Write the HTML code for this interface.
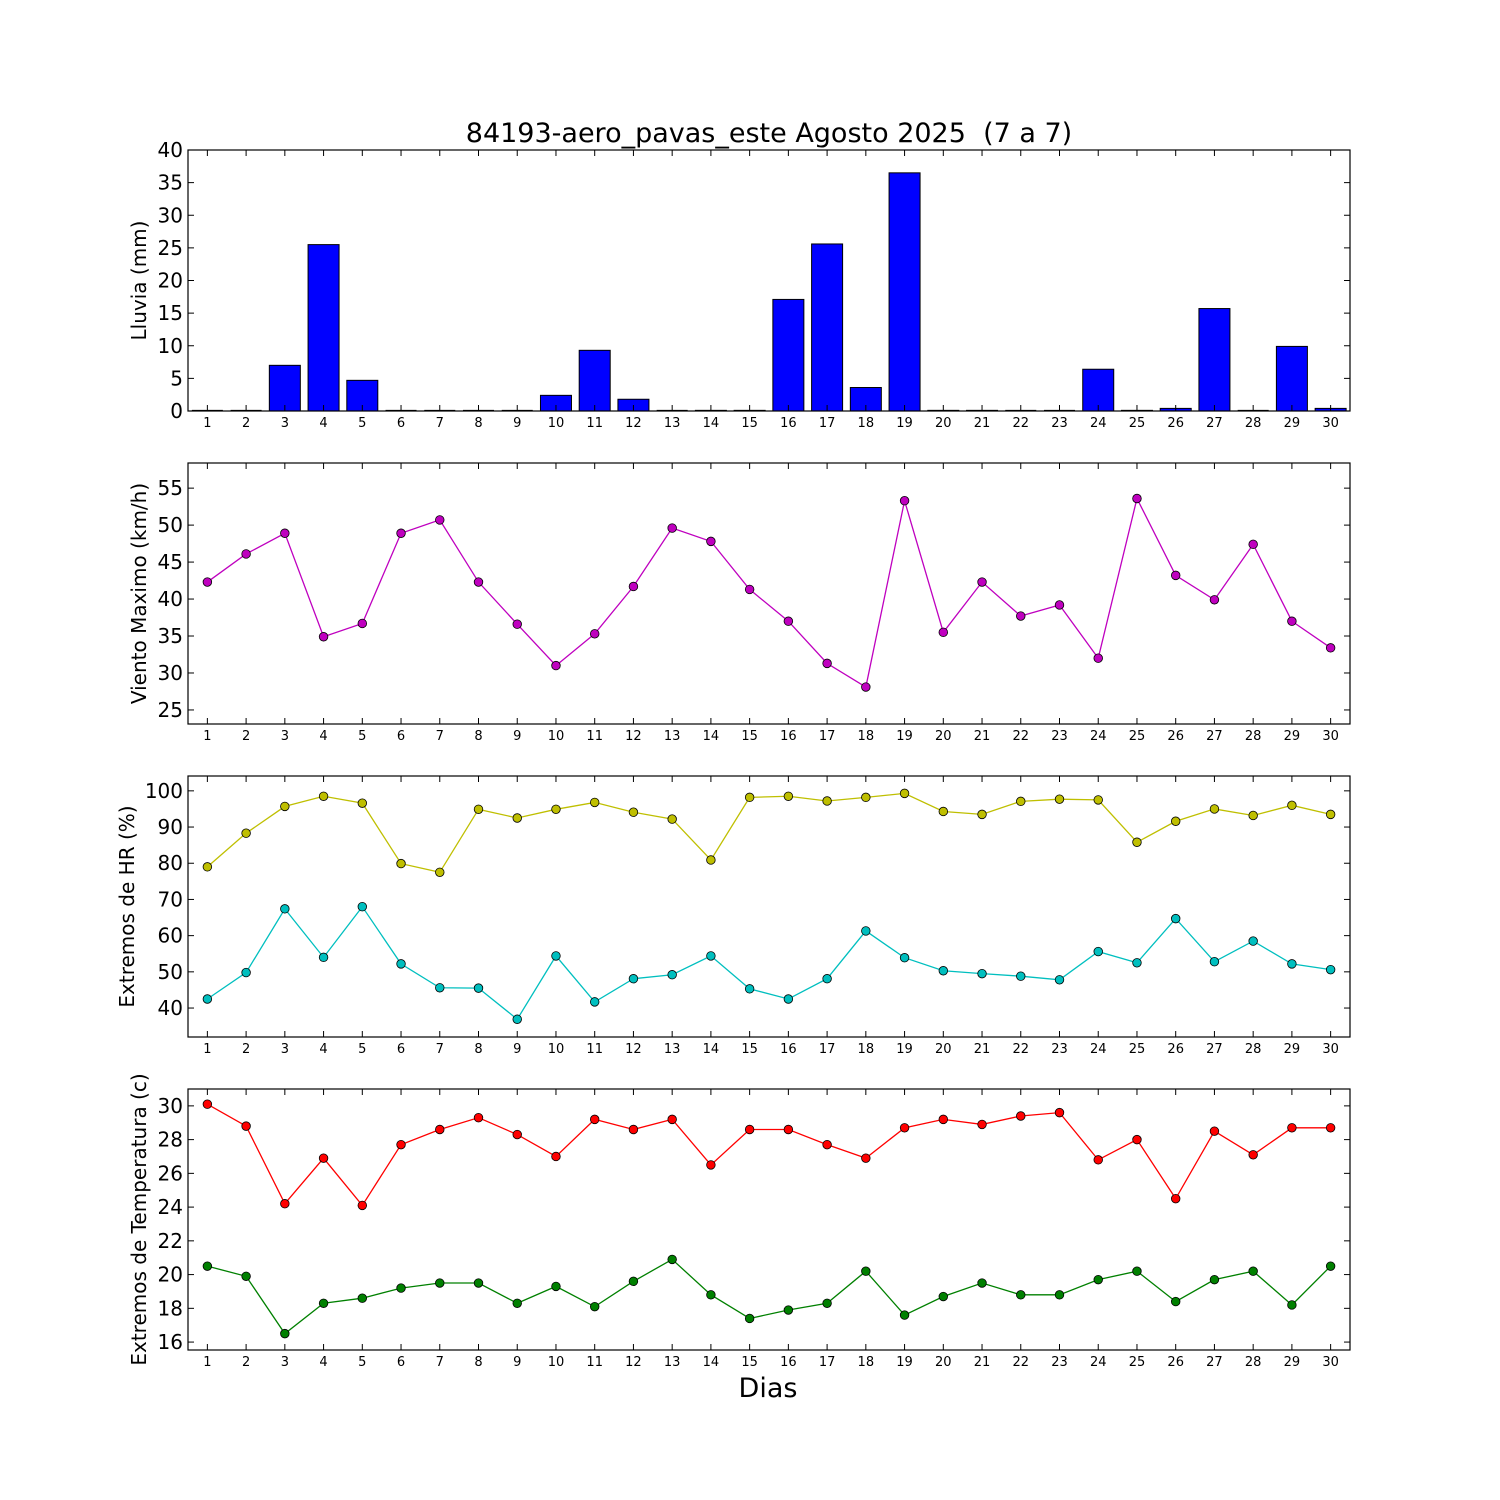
<!DOCTYPE html>
<html><head><meta charset="utf-8"><style>body{margin:0;background:#fff}svg{display:block}text{font-family:"DejaVu Sans","Liberation Sans",sans-serif}</style></head>
<body><svg id="s" width="1500" height="1500" xmlns="http://www.w3.org/2000/svg"></svg>
<script>
const S=document.getElementById('s');let h='';
const X0=188,X1=1350,dx=(X1-X0)/30;const xd=d=>X0+(d-0.5)*dx;
function panel(top,bot,ymin,ymax,ticks,label,lx,draw){
 const y=v=>bot-(v-ymin)/(ymax-ymin)*(bot-top);
 h+=draw(y);
 h+=`<rect x="${X0}" y="${top}" width="${X1-X0}" height="${bot-top}" fill="none" stroke="#000" stroke-width="1.2"/>`;
 for(const t of ticks){const yy=y(t);h+=`<line x1="${X0}" x2="${X0+6}" y1="${yy}" y2="${yy}" stroke="#000"/><line x1="${X1}" x2="${X1-6}" y1="${yy}" y2="${yy}" stroke="#000"/><text x="${X0-5}" y="${yy+7}" font-size="20" text-anchor="end">${t}</text>`;}
 for(let d=1;d<=30;d++){const xx=xd(d);h+=`<line x1="${xx}" x2="${xx}" y1="${bot}" y2="${bot-6}" stroke="#000"/><line x1="${xx}" x2="${xx}" y1="${top}" y2="${top+6}" stroke="#000"/><text x="${xx}" y="${bot+16}" font-size="13" text-anchor="middle">${d}</text>`;}
 const cy=(top+bot)/2;h+=`<text x="${lx}" y="${cy}" font-size="20" text-anchor="middle" transform="rotate(-90 ${lx} ${cy})">${label}</text>`;
}
function line(y,vals,col){let p=vals.map((v,i)=>`${xd(i+1)},${y(v)}`).join(' ');let r=`<polyline points="${p}" fill="none" stroke="${col}" stroke-width="1.3"/>`;vals.forEach((v,i)=>r+=`<circle cx="${xd(i+1)}" cy="${y(v)}" r="4.3" fill="${col}" stroke="#000" stroke-width="0.8"/>`);return r;}
const rain=[0,0,7,25.5,4.7,0,0,0,0,2.4,9.3,1.8,0,0.1,0.1,17.1,25.6,3.6,36.5,0.1,0.1,0,0,6.4,0.1,0.4,15.7,0,9.9,0.4];
panel(150,411,0,40,[0,5,10,15,20,25,30,35,40],"Lluvia (mm)",146,y=>rain.map((v,i)=>v>0?`<rect x="${xd(i+1)-15.5}" y="${y(v)}" width="31" height="${411-y(v)}" fill="#0000ff" stroke="#000" stroke-width="1"/>`:`<line x1="${xd(i+1)-15.5}" x2="${xd(i+1)+15.5}" y1="410.5" y2="410.5" stroke="#000" stroke-width="1.2"/>`).join(''));
const wind=[42.3,46.1,48.9,34.9,36.7,48.9,50.7,42.3,36.6,31,35.3,41.7,49.6,47.8,41.3,37,31.3,28.1,53.3,35.5,42.3,37.7,39.2,32,53.6,43.2,39.9,47.4,37,33.4];
panel(463,724,23.1,58.4,[25,30,35,40,45,50,55],"Viento Maximo (km/h)",146,y=>line(y,wind,"#bf00bf"));
const hy=[79,88.3,95.7,98.5,96.6,79.9,77.5,94.9,92.5,94.9,96.8,94.1,92.2,80.9,98.2,98.5,97.2,98.2,99.3,94.3,93.5,97.1,97.7,97.5,85.8,91.6,95,93.2,96,93.5];
const hc=[42.5,49.8,67.4,54,68,52.2,45.6,45.5,36.9,54.4,41.7,48.1,49.2,54.4,45.3,42.5,48.1,61.3,53.9,50.3,49.5,48.8,47.8,55.6,52.5,64.7,52.8,58.5,52.2,50.6];
panel(776,1037,32.0,104.1,[40,50,60,70,80,90,100],"Extremos de HR (%)",134,y=>line(y,hy,"#bfbf00")+line(y,hc,"#00bfbf"));
const tr=[30.1,28.8,24.2,26.9,24.1,27.7,28.6,29.3,28.3,27,29.2,28.6,29.2,26.5,28.6,28.6,27.7,26.9,28.7,29.2,28.9,29.4,29.6,26.8,28,24.5,28.5,27.1,28.7,28.7];
const tg=[20.5,19.9,16.5,18.3,18.6,19.2,19.5,19.5,18.3,19.3,18.1,19.6,20.9,18.8,17.4,17.9,18.3,20.2,17.6,18.7,19.5,18.8,18.8,19.7,20.2,18.4,19.7,20.2,18.2,20.5];
panel(1089,1350,15.53,31.0,[16,18,20,22,24,26,28,30],"Extremos de Temperatura (c)",146,y=>line(y,tr,"#ff0000")+line(y,tg,"#008000"));
h+=`<text x="769" y="142" font-size="27" text-anchor="middle">84193-aero_pavas_este Agosto 2025&#160; (7 a 7)</text>`;
h+=`<text x="768" y="1397" font-size="27" text-anchor="middle">Dias</text>`;
S.innerHTML=h;
</script></body></html>
